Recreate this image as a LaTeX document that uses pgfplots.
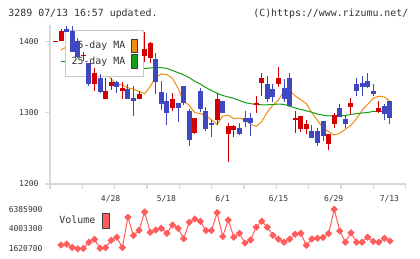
\documentclass[border=0pt]{standalone}
\usepackage{fontspec}
\setmonofont{DejaVu Sans Mono}
\usepackage{pgfplots}
\pgfplotsset{compat=1.18}
\usepackage{pgfplotstable}

\definecolor{candleup}{RGB}{210,0,0}
\definecolor{candledown}{RGB}{64,72,192}
\definecolor{maorange}{RGB}{240,140,20}
\definecolor{magreen}{RGB}{20,160,20}
\definecolor{volred}{RGB}{255,92,92}
\definecolor{axisgray}{RGB}{216,216,216}
\definecolor{labelgray}{RGB}{51,51,51}
\definecolor{legendgray}{RGB}{200,200,200}
\definecolor{swatchedge}{RGB}{64,64,64}

\newcommand\chartfont[1]{\fontsize{#1}{#1}\selectfont\ttfamily}

% rising sessions (close above open): index, open, high, low, close
\pgfplotstableread{
i  o      h      l      c
-1 1399.4 1400.6 1399.4 1400.6
0  1400   1417   1400   1414
4  1380   1385   1373   1381.4
6  1340   1363   1331   1355
8  1319   1348   1319   1331
9  1338   1349   1332   1343
11 1330   1343   1319   1335
14 1319   1330   1319   1326
15 1380   1413   1371   1389
16 1377   1399   1369   1397
20 1306   1327   1302   1319
24 1271   1292   1270   1292
28 1289   1327   1282   1319
30 1270   1285   1231   1281
31 1275   1282   1266   1281
35 1310   1324   1300   1314
36 1342   1355   1324   1348
39 1340   1364   1336   1348
42 1289   1302   1271   1292
43 1277   1295   1273   1295
44 1277   1289   1270   1284
48 1256   1270   1247   1270
49 1284   1299   1278   1296
52 1308   1321   1298   1313
57 1301   1316   1299   1306
}\upcandles

% falling sessions (close below open): index, open, high, low, close
\pgfplotstableread{
i  o    h    l    c
1  1417 1422 1413 1413
2  1414 1422 1385 1385
3  1401 1404 1376 1378
5  1370 1370 1337 1340
7  1349 1354 1328 1329
10 1343 1345 1328 1336
12 1333 1340 1319 1319
13 1320 1337 1295 1316
17 1375 1384 1326 1343
18 1329 1344 1303 1312
19 1316 1327 1282 1299
21 1314 1314 1287 1307
22 1337 1337 1311 1314
23 1302 1305 1253 1261
25 1330 1335 1301 1305
26 1302 1308 1274 1277
27 1285 1290 1266 1282
29 1317 1317 1299 1299
32 1278 1285 1268 1270
33 1292 1302 1280 1287
34 1293 1299 1267 1285
37 1340 1352 1315 1319
38 1333 1340 1315 1322
40 1334 1347 1315 1319
41 1348 1355 1309 1309
45 1274 1282 1264 1265
46 1274 1279 1253 1257
47 1288 1288 1260 1267
50 1306 1312 1294 1294
51 1291 1296 1278 1284
53 1340 1348 1323 1331
54 1341 1352 1323 1336
55 1344 1355 1334 1336
56 1330 1340 1323 1326
58 1309 1312 1289 1298
59 1316 1316 1284 1293
}\downcandles

% 5-day moving average
\pgfplotstableread{
i v
0 1388
1 1392
2 1397
3 1400
4 1398
5 1394.2
6 1379.4
7 1367.8
8 1356.6
9 1347.2
10 1339.6
11 1338.8
12 1334.8
13 1332.8
14 1329.8
15 1326.4
16 1337
17 1349.4
18 1354.2
19 1353.4
20 1348
21 1334
22 1316
23 1310.2
24 1300
25 1298.6
26 1295.8
27 1289.8
28 1283.4
29 1295
30 1296.4
31 1291.6
32 1292.4
33 1290
34 1283.6
35 1280.8
36 1287.4
37 1300.8
38 1310.6
39 1317.6
40 1330.2
41 1331.2
42 1323.4
43 1318
44 1312.6
45 1299.8
46 1289
47 1278.6
48 1273.6
49 1268.6
50 1271
51 1276.8
52 1282.2
53 1291.4
54 1303.6
55 1311.6
56 1320
57 1323
58 1322
59 1316
}\maFive

% 25-day moving average
\pgfplotstableread{
i v
0 1372
1 1371
2 1370
3 1369.5
4 1369
5 1368.5
6 1368
7 1367.5
8 1367
9 1366
10 1365
11 1364
12 1363.5
13 1363
14 1362
15 1362
16 1362.5
17 1363
18 1363
19 1362
20 1359
21 1356
22 1353
23 1349
24 1344
25 1340
26 1335
27 1331
28 1327
29 1324
30 1322
31 1320
32 1317
33 1314
34 1312.6
35 1311.5
36 1311
37 1311
38 1311.5
39 1312
40 1311.5
41 1309
42 1306.5
43 1304.5
44 1302.5
45 1300.5
46 1298
47 1296.5
48 1295.3
49 1295.3
50 1295.3
51 1296
52 1297.5
53 1298.6
54 1299.5
55 1300.2
56 1301.8
57 1301.8
58 1302
59 1303.5
}\maTwentyFive

% daily volume
\pgfplotstableread{
i v
0 2068200
1 2164900
2 1765800
3 1620700
4 1650000
5 2394700
6 2757600
7 1681200
8 1741600
9 2636600
10 2999500
11 1765800
12 5418300
13 3217200
14 3846100
15 6059300
16 3604200
17 3882400
18 4088000
19 3483200
20 4487100
21 4088000
22 2830100
23 4813600
24 5212700
25 4922500
26 3821900
27 3821900
28 5974700
29 3096200
30 5091800
31 3011600
32 3483200
33 2310100
34 2672900
35 4221000
36 4946700
37 4221000
38 3241400
39 2769700
40 2406800
41 2769700
42 3374400
43 3471100
44 2031900
45 2793900
46 2890600
47 2975300
48 3459000
49 6385900
50 3761400
51 2406800
52 3543700
53 2406800
54 2406800
55 3011600
56 2491500
57 2406800
58 2878500
59 2552000
}\volume

\pgfplotsset{
  pricepanel/.style={
    at={(50bp,75bp)}, anchor=south west, scale only axis,
    width=355.7bp, height=159bp,
    xmin=-1.973, xmax=61.821, ymin=1200, ymax=1422.8,
  },
  candlebody/.style={draw=none, mark=none, forget plot,
    error bars/.cd, y dir=plus, y explicit, error mark=none,
    error bar style={draw=#1, line width=5bp}},
  candlewick/.style={draw=none, mark=none, forget plot,
    error bars/.cd, y dir=plus, y explicit, error mark=none,
    error bar style={draw=#1, line width=1bp}},
}

\begin{document}
\begin{tikzpicture}
\useasboundingbox (0bp,0bp) rectangle (420bp,259bp);
\fill[white] (0bp,0bp) rectangle (420bp,259bp);

\node[anchor=west, inner sep=0pt, font=\chartfont{9.9bp}, text=labelgray] at (8.3bp,245bp) {3289 07/13 16:57 updated.};
\node[anchor=east, inner sep=0pt, font=\chartfont{9.9bp}, text=labelgray] at (408.5bp,245bp) {(C)https://www.rizumu.net/};

% price panel: frame, ticks, moving averages and their legend
\begin{axis}[pricepanel,
  axis x line*=bottom, axis y line*=left,
  axis line style={axisgray, line width=1.5bp, -},
  tick style={axisgray, line width=1.5bp},
  major tick length=5bp, tick align=outside,
  xtick={-1.973,3.826,9.626,15.425,21.225,27.024,32.824,38.623,44.423,50.222,56.022,61.821},
  xticklabels={},
  extra x ticks={8.9,18.9,29,39,48.9,58.9},
  extra x tick labels={4/28,5/18,6/1,6/15,6/29,7/13},
  extra x tick style={major tick length=0bp, tick style={draw=none},
    xticklabel style={yshift=-8bp}},
  ytick={1200,1300,1400}, yticklabels={1200,1300,1400},
  scaled y ticks=false,
  tick label style={font=\chartfont{8bp}, text=labelgray},
  yticklabel style={xshift=-3bp},
  /pgf/number format/assume math mode=true,
  legend style={at={(axis description cs:0.0422,0.9686)}, anchor=north west,
    draw=legendgray, line width=1.2bp, fill=white,
    font=\chartfont{9.9bp}, text=labelgray,
    inner xsep=5.5bp, inner ysep=8bp, row sep=1.6bp,
    nodes={inner sep=0.5bp}, column sep=5bp},
  legend cell align=right, legend plot pos=right,
]
\addplot[maorange, line width=1bp,
  legend image code/.code={\draw[fill=maorange, draw=swatchedge, line width=0.9bp] (0bp,-6.7bp) rectangle (6.3bp,6.7bp);}]
  table[x=i, y=v] {\maFive};
\addlegendentry{5-day MA}
\addplot[magreen, line width=1bp,
  legend image code/.code={\draw[fill=magreen, draw=swatchedge, line width=0.9bp] (0bp,-6.7bp) rectangle (6.3bp,6.7bp);}]
  table[x=i, y=v] {\maTwentyFive};
\addlegendentry{25-day MA}
\end{axis}

% candlesticks, drawn above the legend box
\begin{axis}[pricepanel, hide axis, clip=false]
\addplot[candlewick=candleup] table[x=i, y=l, y error expr=\thisrow{h}-\thisrow{l}] {\upcandles};
\addplot[candlebody=candleup] table[x=i, y=o, y error expr=\thisrow{c}-\thisrow{o}] {\upcandles};
\addplot[candlewick=candledown] table[x=i, y=l, y error expr=\thisrow{h}-\thisrow{l}] {\downcandles};
\addplot[candlebody=candledown] table[x=i, y=c, y error expr=\thisrow{o}-\thisrow{c}] {\downcandles};
\end{axis}

% volume panel
\begin{axis}[
  at={(50bp,10.3bp)}, anchor=south west, scale only axis,
  width=355.7bp, height=39.4bp,
  xmin=-1.973, xmax=61.821, ymin=1620700, ymax=6385900,
  clip=false,
  axis x line=none, axis y line*=left,
  axis line style={draw=none}, tick style={draw=none}, major tick length=0bp,
  ytick={1620700,4003300,6385900}, yticklabels={1620700,4003300,6385900},
  scaled y ticks=false,
  tick label style={font=\chartfont{8bp}, text=labelgray},
  yticklabel style={xshift=-4bp},
  legend style={at={(axis description cs:0.0247,0.911)}, anchor=north west,
    draw=none, fill=none, font=\chartfont{9.9bp}, text=labelgray,
    inner sep=0bp, nodes={inner sep=0.5bp}, column sep=6.5bp},
  legend plot pos=right,
]
\addplot[volred, line width=1bp, mark=square*, mark size=2.1bp,
  mark options={rotate=45, fill=volred, draw=volred},
  legend image code/.code={\draw[fill=volred, draw=swatchedge, line width=0.9bp] (0bp,-7.5bp) rectangle (6.6bp,7.5bp);}]
  table[x=i, y=v] {\volume};
\addlegendentry{Volume}
\end{axis}
\end{tikzpicture}
\end{document}
